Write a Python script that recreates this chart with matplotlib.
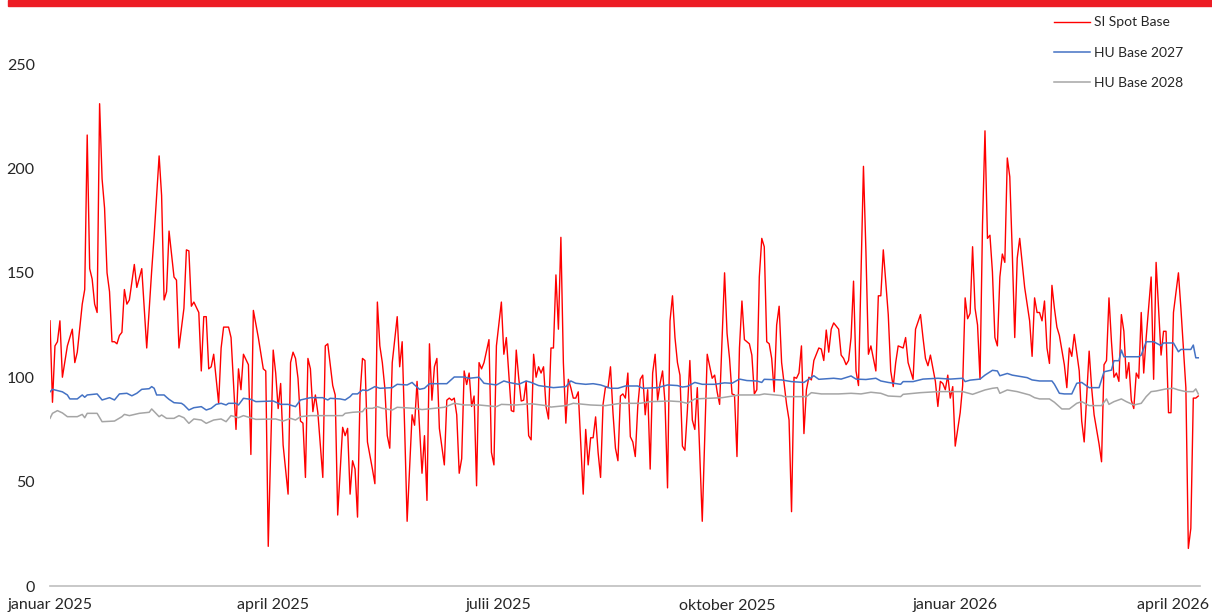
import pandas as pd
import matplotlib
matplotlib.use("Agg")
from matplotlib import pyplot as plt
from matplotlib.patches import Rectangle
from matplotlib.transforms import ScaledTranslation

start = pd.Timestamp("2025-01-01")

# SI Spot Base (day offset from 1 Jan 2025, EUR/MWh) - vertices
si_days = [0, 1, 2, 3, 4, 5, 7, 9, 10, 11, 13, 14, 15, 16, 17, 18, 19, 20, 21, 22,
           23, 24, 25, 26, 27, 28, 29, 30, 31, 32, 34, 35, 37, 39, 41, 42, 44, 45, 46, 47,
           48, 50, 51, 52, 54, 55, 56, 57, 58, 60, 61, 62, 63, 64, 65, 66, 68, 69, 70, 72,
           73, 75, 76, 77, 78, 80, 81, 82, 84, 86, 87, 88, 90, 91, 92, 93, 94, 96, 97, 98,
           99, 100, 101, 102, 103, 104, 105, 106, 107, 108, 110, 111, 112, 114, 115, 116, 118, 119, 120, 121,
           122, 123, 124, 125, 126, 127, 128, 130, 131, 132, 133, 134, 135, 136, 137, 138, 140, 141, 142, 143,
           144, 146, 147, 148, 150, 151, 152, 153, 154, 155, 156, 157, 159, 160, 161, 162, 163, 164, 165, 166,
           167, 168, 169, 170, 171, 172, 173, 174, 175, 177, 178, 179, 180, 182, 183, 184, 186, 187, 188, 189,
           190, 191, 192, 193, 194, 195, 196, 197, 198, 199, 200, 201, 202, 203, 204, 205, 206, 207, 208, 209,
           210, 211, 212, 213, 214, 215, 216, 217, 218, 219, 220, 221, 222, 223, 224, 225, 226, 227, 228, 229,
           230, 231, 232, 233, 234, 235, 236, 237, 238, 239, 240, 241, 242, 243, 244, 245, 246, 247, 248, 249,
           250, 251, 252, 253, 254, 255, 256, 257, 258, 259, 260, 261, 263, 265, 267, 268, 269, 270, 272, 273,
           274, 275, 276, 277, 278, 279, 280, 282, 283, 284, 285, 286, 287, 288, 289, 290, 291, 292, 293, 294,
           295, 297, 298, 299, 300, 301, 302, 303, 304, 305, 306, 307, 308, 310, 311, 312, 313, 314, 315, 316,
           318, 319, 320, 321, 322, 323, 324, 325, 326, 328, 329, 330, 331, 333, 334, 335, 336, 338, 339, 340,
           341, 342, 344, 345, 346, 348, 349, 350, 351, 352, 353, 354, 355, 357, 358, 359, 360, 361, 362, 363,
           364, 365, 367, 368, 369, 370, 371, 372, 373, 374, 375, 376, 377, 378, 379, 380, 381, 382, 383, 384,
           385, 386, 387, 388, 389, 390, 391, 393, 395, 396, 397, 398, 399, 400, 401, 402, 403, 404, 405, 406,
           407, 409, 410, 411, 412, 413, 415, 416, 417, 419, 420, 421, 423, 424, 425, 426, 427, 428, 429, 430,
           431, 432, 433, 434, 435, 436, 437, 438, 439, 440, 441, 442, 444, 445, 446, 448, 449, 450, 451, 452,
           453, 455, 456, 458, 459, 460, 461, 462, 463]
si_spot = [127, 88, 115, 117, 127, 100, 115, 123, 107, 112, 135, 142, 216, 152, 147, 135, 131, 231, 195, 181,
           150, 141, 117, 117, 116, 120, 121.5, 142, 135, 137, 154, 143, 152, 114, 151, 168, 206, 187, 137, 141,
           170, 148, 146.5, 114, 133, 161, 160.5, 134, 136, 131, 103, 129, 129, 104, 105, 111, 87.5, 114, 124, 124,
           119, 75, 104, 94, 111, 106, 63, 132, 119, 104, 103, 19, 113, 102, 85, 97, 67.5, 44, 107, 112,
           109, 99.5, 79, 78, 52, 109, 104, 83.5, 91.5, 83, 52, 115, 116, 96, 91.5, 34, 76, 72, 75.5, 44,
           60, 56, 33, 91, 109, 108, 69, 56, 49, 136, 115, 107, 95, 72, 66, 107, 129, 105, 117, 75.5,
           31, 82, 77, 98, 54, 72, 41, 116, 89, 105, 109, 75.5, 58, 89, 90, 89, 90, 82, 54, 61,
           103, 96.5, 102, 86, 91, 48, 107, 104, 107, 118, 64, 58, 115, 136, 111, 119, 84, 83.5, 113, 99.5,
           88.6, 89, 98, 72, 70, 111, 100, 105, 102, 105, 86, 80, 114, 114, 149, 123, 167, 107, 78, 99,
           95, 90, 90, 93, 69, 44, 75, 58, 71, 71, 81, 64, 52, 87, 95.5, 95, 105, 83, 66, 60,
           91, 92, 90, 102, 71.5, 69, 62, 86, 99, 101, 82, 94, 56, 102, 111, 89, 97, 103, 87.5, 47,
           127, 139, 119, 107, 101, 67, 65, 84, 108, 79.5, 75, 95, 31, 111, 99.5, 101, 93, 87, 150, 121,
           109, 92, 91.5, 62, 114, 136.5, 118, 116, 110.6, 92, 94, 148, 166.5, 162.5, 117, 116, 109, 93, 125, 134,
           107, 87, 79.5, 35.6, 100, 99.5, 102, 115, 73, 94, 100, 98.7, 108, 114, 113.5, 108, 122.6, 112, 123, 126,
           123, 110.6, 109, 106, 108, 119, 146, 103, 96, 201, 160, 111, 115, 103, 139, 139, 161, 130, 103, 95.5,
           107, 115, 114, 119, 107, 99, 123, 126.5, 130, 119, 109, 105.5, 110.6, 98, 86, 98, 97, 94, 101, 90,
           95.5, 67, 83, 96, 138, 128, 130.6, 162.5, 133, 125, 99, 173, 218, 166.5, 168, 150.5, 119, 115, 148, 159,
           155, 205, 196, 160, 119, 157, 166.5, 143, 127, 110, 138, 131, 131, 127, 136.5, 114, 106.6, 144, 133, 124,
           120, 106, 95, 114, 110, 120.5, 103, 79, 69, 112.5, 95, 82, 68, 59.5, 106, 108, 138, 117, 100, 102,
           98, 130, 122, 99.5, 107, 89, 85, 102, 99.5, 131, 102, 119, 148, 99, 155, 110.6, 122, 122, 83, 83,
           131, 150, 133, 95, 18, 27.6, 90, 90, 91]

# HU Base 2027
hu27_days = [0, 1, 3, 5, 7, 8, 11, 13, 14, 15, 19, 21, 24, 26, 28, 31, 33, 35, 37, 40,
             41, 42, 43, 46, 47, 48, 50, 53, 54, 56, 58, 61, 63, 65, 67, 69, 71, 72, 75, 76,
             78, 81, 83, 90, 93, 96, 99, 101, 105, 110, 112, 113, 117, 119, 121, 122, 124, 126, 128, 131,
             133, 138, 140, 144, 146, 147, 149, 151, 153, 160, 163, 167, 169, 173, 175, 180, 183, 185, 189, 192,
             194, 197, 200, 203, 208, 210, 212, 216, 219, 222, 226, 229, 232, 237, 239, 245, 249, 253, 255, 257,
             260, 263, 268, 272, 275, 278, 281, 285, 287, 288, 295, 299, 304, 308, 310, 316, 319, 323, 325, 329,
             333, 335, 338, 343, 344, 348, 352, 358, 363, 368, 369, 371, 375, 377, 380, 382, 383, 386, 388, 394,
             396, 399, 404, 405, 407, 409, 412, 414, 416, 419, 423, 425, 428, 429, 431, 432, 433, 439, 440, 442,
             445, 448, 449, 453, 455, 456, 460, 461, 462, 463]
hu_base_2027 = [93, 94.2, 93.6, 93, 91.5, 89.6, 89.6, 91.5, 90.4, 91.5, 92, 89.1, 90.2, 89.1, 92, 92.3, 91.1, 92.3, 94.2, 94.5,
                95.5, 94.7, 91.5, 91.5, 90.4, 89.4, 87.8, 87.5, 86.7, 84.3, 85.4, 85.9, 84.3, 85.1, 87, 87.5, 86.7, 87.5, 87.5, 86.7,
                89.9, 89.4, 88.3, 88.6, 87, 87, 85.9, 89.1, 90.2, 90.2, 89.1, 89.9, 89.6, 89.1, 90.7, 92, 92, 93.9, 93.6, 95.5,
                94.7, 95, 96.6, 96.3, 97.5, 96.3, 94.2, 94.7, 96.9, 96.9, 100.1, 100.1, 99.5, 100, 97.1, 96.3, 98.2, 97.5, 96.6, 98.2,
                97.5, 96, 95.5, 95, 95.5, 98.2, 97.1, 96.6, 96.9, 96.3, 94.7, 94.7, 95.8, 95.8, 94.7, 95, 96.3, 96, 95.3, 95.6,
                97.5, 96.6, 96.6, 97.3, 97.1, 99.1, 98.4, 98.2, 97.5, 99, 98.7, 97.9, 97.5, 100.7, 99, 99.5, 99.1, 100.6, 99.1, 98.9,
                99.5, 98.2, 97.5, 96.6, 97.9, 97.9, 99.1, 99.5, 99.1, 99.5, 97.9, 98.6, 99.1, 101, 103.3, 103, 100.7, 101.8, 101, 99.8,
                98.7, 98.2, 98.2, 96.6, 92.3, 92, 92, 97.1, 97.5, 95, 95, 102.6, 103.4, 107.9, 107.9, 113, 109.8, 109.8, 110.6, 117,
                117, 115.1, 116.4, 116.4, 112.2, 113.3, 113.3, 115.4, 109.3, 109.3]

# HU Base 2028
hu28_days = [0, 1, 3, 5, 7, 11, 13, 14, 15, 19, 21, 26, 29, 30, 32, 36, 40, 41, 44, 45,
             47, 50, 52, 54, 56, 58, 61, 63, 66, 69, 71, 73, 76, 78, 83, 91, 94, 97, 99, 101,
             105, 118, 119, 122, 126, 127, 130, 132, 134, 138, 140, 147, 150, 159, 163, 167, 173, 180, 182, 188,
             194, 200, 202, 208, 211, 218, 224, 230, 238, 242, 250, 254, 257, 260, 266, 271, 278, 286, 288, 295,
             296, 305, 307, 311, 318, 323, 327, 331, 335, 338, 343, 344, 351, 358, 368, 372, 377, 380, 382, 383,
             386, 390, 395, 397, 399, 403, 405, 408, 411, 414, 416, 419, 424, 426, 427, 429, 432, 434, 437, 440,
             442, 444, 446, 450, 453, 455, 458, 461, 462, 463]
hu_base_2028 = [80.3, 82.7, 84, 82.9, 81.1, 81.1, 82.2, 80.6, 82.7, 82.7, 78.7, 79, 81.1, 82.2, 81.6, 82.7, 83.2, 84.8, 81.1, 81.9,
                80.3, 80.3, 81.6, 80.6, 77.9, 80, 79.5, 77.9, 79.5, 80, 78.7, 81.6, 80.6, 81.6, 79.8, 80, 79, 80.3, 79.5, 81.1,
                81.6, 81.6, 82.7, 83.2, 83.5, 85.1, 85.1, 85.9, 85.1, 84.3, 85.6, 85.1, 84.5, 85.6, 87.5, 86.7, 86.7, 85.9, 87, 86.7,
                87.3, 86.4, 85.7, 86.4, 87.5, 86.7, 86.4, 87.5, 87.5, 88.3, 88.6, 88.3, 87.5, 89.6, 89.9, 90.2, 91.5, 91.5, 92, 91.2,
                90.7, 90.7, 92.6, 92, 92, 92.3, 92, 92.8, 92.3, 91, 90.7, 91.8, 92.6, 93.1, 93.1, 91.8, 93.9, 94.7, 95, 92.3,
                93.9, 93.1, 91.5, 90.2, 89.6, 89.6, 88, 84.8, 84.8, 87.5, 88.3, 86.4, 86.4, 89.6, 87, 88.3, 89.6, 88.3, 86.7, 87.5,
                90.7, 93.1, 93.4, 94.4, 94.7, 93.9, 93.1, 93.1, 94.4, 92]

tick_dates = ["2025-01-01", "2025-04-01", "2025-07-01", "2025-10-01", "2026-01-01", "2026-04-01"]
tick_labels = ["januar 2025", "april 2025", "julii 2025", "oktober 2025", "januar 2026", "april 2026"]
y_ticks = [0, 50, 100, 150, 200, 250]

plt.rcParams['font.family'] = ['Lato', 'DejaVu Sans']

fig = plt.figure(figsize=(12.12, 6.12), dpi=100)
ax = fig.add_axes([50 / 1212, 26 / 612, 1150 / 1212, 532.4 / 612])

si_x = start + pd.to_timedelta(si_days, unit="D")
hu27_x = start + pd.to_timedelta(hu27_days, unit="D")
hu28_x = start + pd.to_timedelta(hu28_days, unit="D")

ax.plot(si_x, si_spot, color="#FF0000", lw=1.0, label="SI Spot Base")
ax.plot(hu27_x, hu_base_2027, color="#4472C4", lw=1.1, label="HU Base 2027")
ax.plot(hu28_x, hu_base_2028, color="#A5A5A5", lw=1.1, label="HU Base 2028")

ax.set_xlim(start, start + pd.Timedelta(days=463.7))
ax.set_ylim(0, 255)
ax.set_yticks(y_ticks)
ax.set_xticks(pd.to_datetime(tick_dates))
ax.set_xticklabels(tick_labels)
ax.tick_params(axis="both", length=0, labelsize=11.5, colors="#262626")
ax.tick_params(axis="y", pad=11)
ax.tick_params(axis="x", pad=9)

# keep the last month label inside the picture
last = ax.get_xticklabels()[-1]
last.set_transform(last.get_transform() + ScaledTranslation(-5 / 100, 0, fig.dpi_scale_trans))

for pos in ["top", "right", "left"]:
    ax.spines[pos].set_visible(False)
ax.spines["bottom"].set_color("#BFBFBF")
ax.spines["bottom"].set_linewidth(1.2)

# red band along the top
fig.patches.append(Rectangle((8 / 1212, 1 - 6 / 612), 1, 6 / 612, transform=fig.transFigure,
                             color="#ED1C24", zorder=5))

fig.legend(loc="upper left", bbox_to_anchor=(1041 / 1212, 1 - 4 / 612), frameon=False,
           fontsize=10, handlelength=2.6, handletextpad=0.3, labelspacing=1.3,
           labelcolor="#262626")

plt.savefig("out.png", dpi=100)
